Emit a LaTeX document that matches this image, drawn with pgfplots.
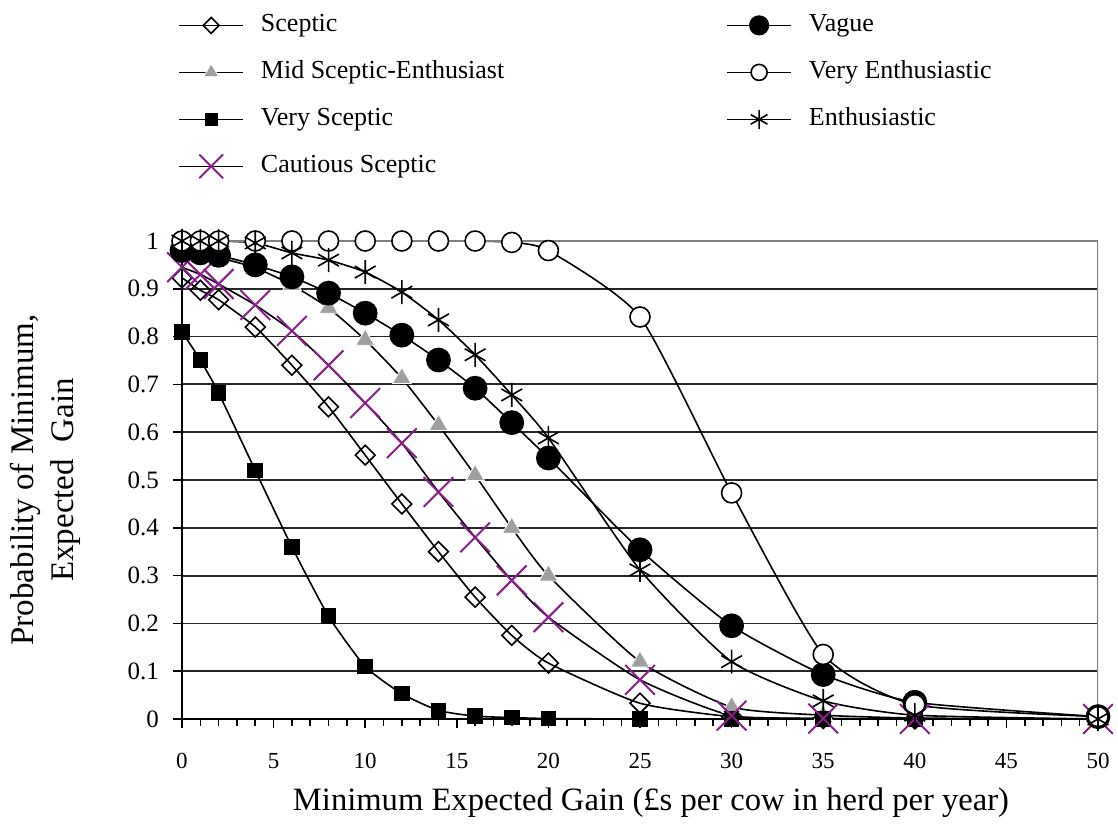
\documentclass[border=0pt]{standalone}
\usepackage{fontspec}
\setmainfont{Liberation Serif}
\usepackage{pgfplots}
\usepackage{pgfplotstable}
\pgfplotsset{compat=1.18}
\definecolor{xpurple}{RGB}{140,30,140}

% probability of minimum expected gain, one column per prior
\pgfplotstableread{
x  sc    mid   vsc   cau   vag   ven   ent
0  0.923 0.967 0.810 0.945 0.980 1.000 1.000
1  0.897 0.967 0.751 0.930 0.975 1.000 1.000
2  0.877 0.965 0.682 0.910 0.970 1.000 1.000
4  0.820 0.944 0.520 0.866 0.950 1.000 0.996
6  0.740 0.908 0.360 0.812 0.925 1.000 0.975
8  0.653 0.860 0.215 0.740 0.891 1.000 0.960
10 0.552 0.793 0.110 0.661 0.849 1.000 0.935
12 0.450 0.713 0.053 0.577 0.803 1.000 0.893
14 0.350 0.615 0.018 0.475 0.751 1.000 0.835
16 0.255 0.510 0.006 0.380 0.692 1.000 0.762
18 0.175 0.400 0.003 0.290 0.620 0.997 0.678
20 0.117 0.300 0.001 0.213 0.546 0.980 0.588
25 0.033 0.120 0.000 0.082 0.354 0.841 0.312
30 0.005 0.025 0.000 0.007 0.195 0.473 0.120
35 0.001 0.008 0.000 0.001 0.093 0.135 0.038
40 0.000 0.002 0.000 0.000 0.035 0.030 0.008
50 0.000 0.000 0.000 0.000 0.005 0.005 0.000
}\data

\begin{document}
\begin{tikzpicture}
\begin{axis}[
  scale only axis, width=458bp, height=239bp,
  xmin=0, xmax=50, ymin=0, ymax=1,
  axis lines*=left,
  axis line style={black, line width=1bp},
  xtick={0,5,10,15,20,25,30,35,40,45,50}, minor x tick num=4,
  ytick={0,0.1,0.2,0.3,0.4,0.5,0.6,0.7,0.8,0.9},
  extra y ticks={1}, extra y tick style={grid=none},
  ymajorgrids, grid style={black!85, line width=0.9bp},
  tick align=outside, major tick length=4.5bp, minor tick length=3.5bp,
  tick style={black, line width=0.8bp},
  /pgf/number format/assume math mode=true,
  xticklabel style={font=\fontsize{11.5bp}{13bp}\selectfont, yshift=-9bp},
  yticklabel style={font=\fontsize{12.5bp}{14bp}\selectfont, xshift=-3.5bp},
  xlabel={Minimum Expected Gain (£s per cow in herd per year)},
  ylabel={Probability of Minimum,\\Expected\ \ Gain},
  x label style={at={(axis description cs:0.512,-0.176)}, anchor=center,
    font=\fontsize{16.3bp}{20bp}\selectfont},
  y label style={at={(axis description cs:-0.1496,0.5)}, anchor=center,
    align=center, font=\fontsize{16.5bp}{20bp}\selectfont},
  legend columns=4, transpose legend,
  legend cell align=left,
  legend style={at={(-0.0044,1.477)}, anchor=north west, draw=none, fill=none,
    inner sep=0pt, font=\fontsize{13bp}{15bp}\selectfont,
    nodes={inner sep=0pt, text height=9bp, text depth=3bp},
    row sep=11.5bp,
    /tikz/every odd column/.append style={column sep=8.5bp},
    /tikz/every even column/.append style={column sep=111bp}},
  legend image code/.code={\draw[mark repeat=2, mark phase=2, #1,
    every mark/.append style={scale=0.8}]
    plot coordinates {(0bp,0bp) (16bp,0bp) (32bp,0bp)};},
  every axis plot/.append style={smooth, tension=0.35, line width=0.8bp},
]
\addplot[black, mark=square, mark size=3.5bp,
  mark options={rotate=45, fill=white}] table[y=sc]{\data};
\addlegendentry{Sceptic}
\addplot[black, mark=triangle*, mark size=5.4bp,
  mark options={fill=gray!75, draw=white, line width=0.4bp}] table[y=mid]{\data};
\addlegendentry{Mid Sceptic-Enthusiast}
\addplot[black, mark=square*, mark size=3.5bp] table[y=vsc]{\data};
\addlegendentry{Very Sceptic}
\addplot[black, mark=x, mark size=10.5bp,
  mark options={draw=xpurple, line width=1bp}] table[y=cau]{\data};
\addlegendentry{Cautious Sceptic}
\addplot[black, mark=*, mark size=5.8bp] table[y=vag]{\data};
\addlegendentry{Vague}
\addplot[black, mark=*, mark size=5bp, mark options={fill=white}]
  table[y=ven]{\data};
\addlegendentry{Very Enthusiastic}
\addplot[black, mark=asterisk, mark size=6bp] table[y=ent]{\data};
\addlegendentry{Enthusiastic}
\draw[gray, line width=0.8bp] (rel axis cs:0,1) -- (rel axis cs:1,1) -- (rel axis cs:1,0);
\end{axis}
\pgfresetboundingbox
\path[use as bounding box] (-91bp,-54bp) rectangle (468bp,359.5bp);
\end{tikzpicture}
\end{document}
